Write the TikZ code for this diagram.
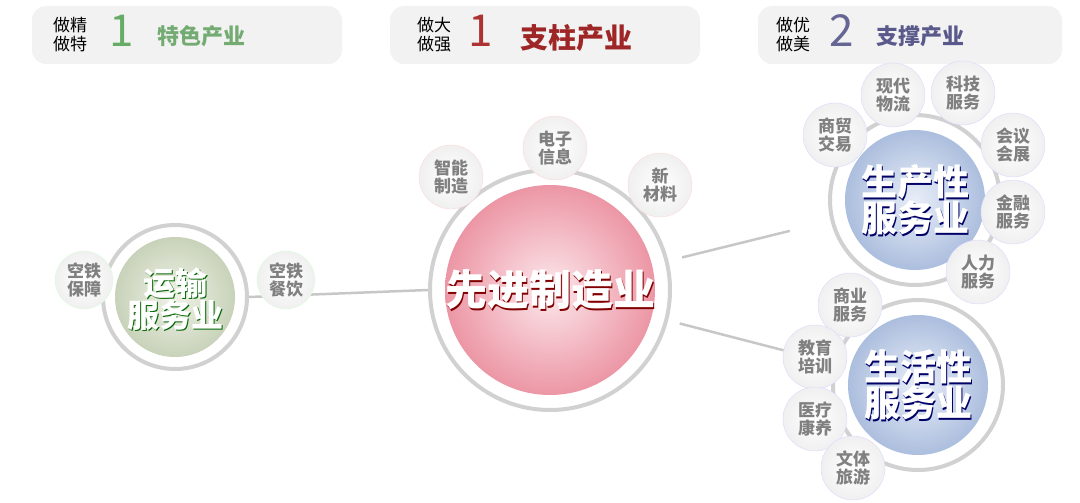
\documentclass[tikz,border=0pt]{standalone}
\usepackage{fontspec}
\setmainfont{Noto Sans CJK SC}
\definecolor{pk}{RGB}{236,150,165}
\definecolor{pkl}{RGB}{252,232,236}
\definecolor{bl}{RGB}{172,190,222}
\definecolor{bll}{RGB}{232,238,248}
\definecolor{gr}{RGB}{200,210,185}
\definecolor{grl}{RGB}{240,242,232}
\tikzset{
 x=1pt,y=-1pt,
 hbox/.style={rounded corners=14pt,fill=black!5},
 ring/.style={circle,draw=black!18,line width=4pt,fill=white},
 sat/.style={circle,minimum size=#1,inner sep=0pt,font=\fontsize{17}{18.5}\selectfont\bfseries,text=black!50,align=center,draw=black!10,inner color=white,outer color=black!6},
 sat/.default=64pt,
 conn/.style={draw=black!22,line width=2.5pt},
 cal/.style={font=\fontsize{#1}{#1}\selectfont\bfseries,text=white,align=center},
}
\begin{document}
\begin{tikzpicture}
\useasboundingbox (0,0) rectangle (1080,503);
% headers
\fill[hbox] (32,6) rectangle (342,64);
\fill[hbox] (390,6) rectangle (700,64);
\fill[hbox] (758,6) rectangle (1062,64);
\node[align=center,font=\fontsize{17}{19}\selectfont] (h1a) at (70,35) {做精\\做特};
\node[font=\fontsize{44}{44}\selectfont\rmfamily,text=green!45!black!60] (h1b) at (122,31) {1};
\node[font=\fontsize{22}{22}\selectfont\bfseries,text=green!40!black!55] (h1c) at (201,36) {特色产业};
\node[align=center,font=\fontsize{17}{19}\selectfont] (h2a) at (434,35) {做大\\做强};
\node[font=\fontsize{44}{44}\selectfont\rmfamily,text=red!60!black!80] (h2b) at (481,31) {1};
\node[font=\fontsize{28}{28}\selectfont\bfseries,text=red!55!black!85] (h2c) at (576,38) {支柱产业};
\node[align=center,font=\fontsize{17}{19}\selectfont] (h3a) at (793,35) {做优\\做美};
\node[font=\fontsize{44}{44}\selectfont\rmfamily,text=blue!30!black!60] (h3b) at (842,31) {2};
\node[font=\fontsize{22}{22}\selectfont\bfseries,text=blue!30!black!65] (h3c) at (920,36) {支撑产业};
% main circles
\node[ring,minimum size=144pt] (tr) at (175,297) {};
\shade[inner color=grl,outer color=gr] (175,297) circle (60);
\node[ring,minimum size=240pt] (adv) at (550,290) {};
\shade[inner color=pkl,outer color=pk] (550,290) circle (105);
\node[cal=42,text=red!50!black] at (551.5,291.5) {先进制造业};
\node[cal=42] (advt) at (550,290) {先进制造业};
\node[ring,minimum size=170pt] (prod) at (915,200) {};
\shade[inner color=bll,outer color=bl] (915,200) circle (70);
\node[cal=36,text=blue!40!black] at (916.5,201.5) {生产性\\服务业};
\node[cal=36] (prodt) at (915,200) {生产性\\服务业};
\node[ring,minimum size=170pt] (life) at (918,385) {};
\shade[inner color=bll,outer color=bl] (918,385) circle (70);
\node[cal=36,text=blue!40!black] at (919.5,386.5) {生活性\\服务业};
\node[cal=36] (lifet) at (918,385) {生活性\\服务业};
\node[cal=32,text=green!40!black] at (176.5,300.5) {运输\\服务业};
\node[cal=32] (trt) at (175,299) {运输\\服务业};
% connectors
\draw[conn] (tr.east) -- (adv.west);
\draw[conn,shorten <=14pt,shorten >=42pt] (adv) -- (prod);
\draw[conn,shorten <=12pt,shorten >=50pt] (adv) -- (life);
% satellites
\node[sat=58pt,draw=green!15] (s1) at (84,280) {空铁\\保障};
\node[sat=58pt,draw=green!15] (s2) at (286,280) {空铁\\餐饮};
\node[sat,draw=red!15] (a1) at (451,177) {智能\\制造};
\node[sat,draw=red!15] (a2) at (555,148) {电子\\信息};
\node[sat,draw=red!15] (a3) at (660,185) {新\\材料};
\node[sat,draw=blue!15] (p1) at (835,135) {商贸\\交易};
\node[sat,draw=blue!15] (p2) at (893,95) {现代\\物流};
\node[sat,draw=blue!15] (p3) at (963,93) {科技\\服务};
\node[sat,draw=blue!15] (p4) at (1013,145) {会议\\会展};
\node[sat,draw=blue!15] (p5) at (1013,212) {金融\\服务};
\node[sat,draw=blue!15] (p6) at (978,272) {人力\\服务};
\node[sat,draw=blue!15] (l1) at (850,305) {商业\\服务};
\node[sat,draw=blue!15] (l2) at (815,357) {教育\\培训};
\node[sat,draw=blue!15] (l3) at (815,419) {医疗\\康养};
\node[sat,draw=blue!15] (l4) at (853,468) {文体\\旅游};
\end{tikzpicture}
\end{document}
